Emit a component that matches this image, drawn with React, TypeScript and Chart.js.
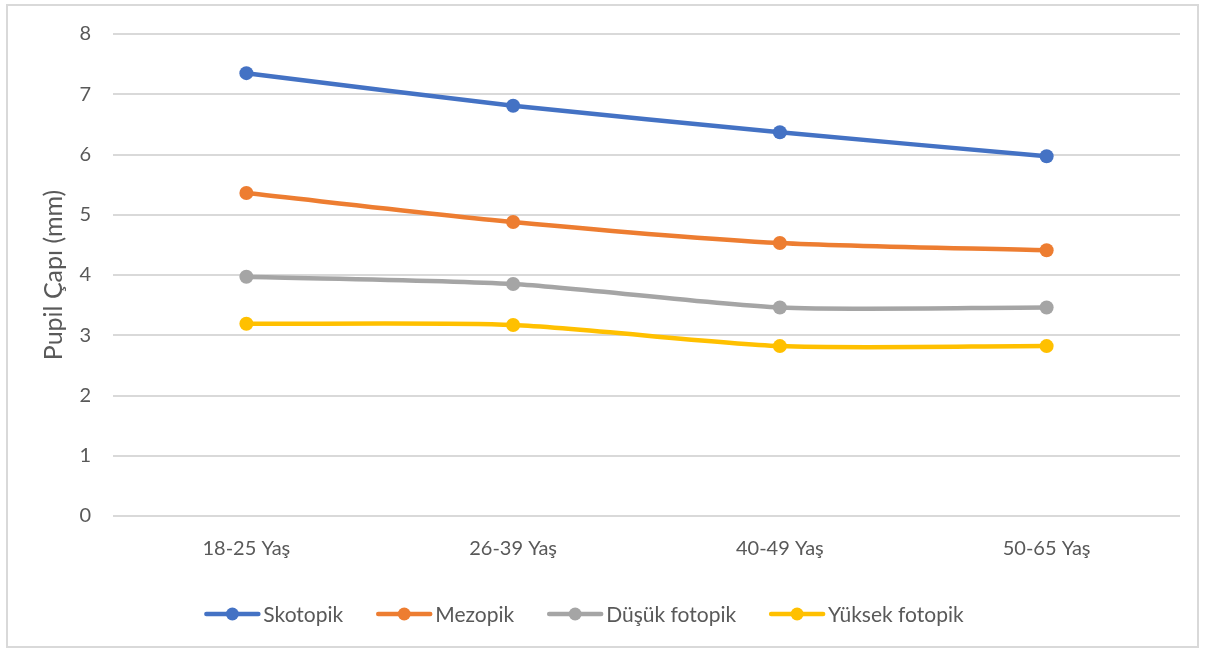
import React, { useEffect, useRef } from "react";
import { Chart, registerables } from "chart.js";

Chart.register(...registerables);

const categories = ["18-25 Yaş", "26-39 Yaş", "40-49 Yaş", "50-65 Yaş"];
const seriesNames = ["Skotopik", "Mezopik", "Düşük fotopik", "Yüksek fotopik"];
const skotopik = [7.35, 6.81, 6.37, 5.97];
const mezopik = [5.36, 4.88, 4.53, 4.41];
const dusukFotopik = [3.97, 3.85, 3.46, 3.46];
const yuksekFotopik = [3.19, 3.17, 2.82, 2.82];
const yAxisTitle = "Pupil Çapı (mm)";
const yMin = 0;
const yMax = 8;
const yStep = 1;

const colors = ["#4472C4", "#ED7D31", "#A5A5A5", "#FFC000"];
const FONT = "Lato, 'Open Sans', sans-serif";
const TEXT = "#595959";

const legendPlugin = {
  id: "excelLegend",
  afterDraw(chart: any) {
    const ctx = chart.ctx;
    ctx.save();
    ctx.font = `21px ${FONT}`;
    const lineLen = 56;
    const gapText = 3;
    const gapItem = 33;
    const items = chart.data.datasets.map((d: any) => ({
      label: d.label,
      color: d.borderColor,
      w: lineLen + gapText + ctx.measureText(d.label).width,
    }));
    const total = items.reduce((s: number, it: any) => s + it.w, 0) + gapItem * (items.length - 1);
    let x = 584 - total / 2;
    const y = 614;
    for (const it of items) {
      ctx.strokeStyle = it.color;
      ctx.lineWidth = 4.5;
      ctx.lineCap = "round";
      ctx.beginPath();
      ctx.moveTo(x + 2, y);
      ctx.lineTo(x + lineLen - 2, y);
      ctx.stroke();
      ctx.fillStyle = it.color;
      ctx.beginPath();
      ctx.arc(x + lineLen / 2, y, 6.5, 0, Math.PI * 2);
      ctx.fill();
      ctx.fillStyle = TEXT;
      ctx.textAlign = "left";
      ctx.textBaseline = "middle";
      ctx.fillText(it.label, x + lineLen + gapText, y + 1);
      x += it.w + gapItem;
    }
    ctx.restore();
  },
};

export default function App() {
  const ref = useRef<HTMLCanvasElement | null>(null);
  useEffect(() => {
    if (!ref.current) return;
    const series = [skotopik, mezopik, dusukFotopik, yuksekFotopik];
    const chart = new Chart(ref.current, {
      type: "line",
      data: {
        labels: categories,
        datasets: series.map((data, i) => ({
          label: seriesNames[i],
          data,
          borderColor: colors[i],
          backgroundColor: colors[i],
          borderWidth: 4.5,
          pointRadius: 7,
          pointHoverRadius: 7,
          pointBorderWidth: 0,
          tension: 0.25,
          fill: false,
        })),
      },
      options: {
        responsive: false,
        animation: false,
        layout: { padding: { left: 8, top: 29, right: 26, bottom: 77 } },
        plugins: {
          legend: { display: false },
          tooltip: { enabled: false },
        },
        scales: {
          x: {
            offset: true,
            grid: { display: false, drawTicks: false },
            border: { display: false },
            ticks: { color: TEXT, font: { family: FONT, size: 20 }, padding: 21 },
            afterFit(scale: any) {
              scale.height = 60;
            },
          },
          y: {
            min: yMin,
            max: yMax,
            grid: { color: "#d9d9d9", lineWidth: 2, drawTicks: false },
            border: { display: false },
            ticks: { stepSize: yStep, color: TEXT, font: { family: FONT, size: 20 }, padding: 22 },
            title: {
              display: true,
              text: yAxisTitle,
              color: TEXT,
              font: { family: FONT, size: 25 },
              padding: { top: 31, bottom: 0 },
            },
            afterFit(scale: any) {
              scale.width = 105;
            },
          },
        },
      },
      plugins: [legendPlugin],
    });
    return () => chart.destroy();
  }, []);
  return (
    <div style={{ position: "fixed", left: 0, top: 0, width: 1206, height: 653, background: "#fff" }}>
      <div
        style={{
          position: "absolute",
          left: 6,
          top: 4,
          width: 1193,
          height: 644,
          border: "2px solid #d9d9d9",
          boxSizing: "border-box",
        }}
      />
      <canvas ref={ref} width={1206} height={653} style={{ position: "absolute", left: 0, top: 0, display: "block" }} />
    </div>
  );
}
